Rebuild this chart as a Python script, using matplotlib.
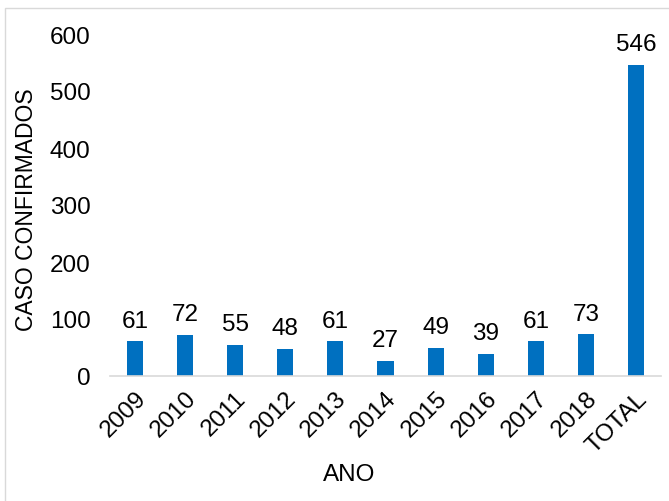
import matplotlib.pyplot as plt
from matplotlib.patches import Rectangle

categorias = ["2009", "2010", "2011", "2012", "2013", "2014", "2015",
              "2016", "2017", "2018", "TOTAL"]
casos = [61, 72, 55, 48, 61, 27, 49, 39, 61, 73, 546]

plt.rcParams['font.family'] = ['Liberation Sans', 'DejaVu Sans']
fs = 17.5

fig = plt.figure(figsize=(6.69, 5.02), dpi=100)
ax = fig.add_axes([110 / 669, 1 - 377 / 502, 551 / 669, 342 / 502])

x = range(len(categorias))
bars = ax.bar(x, casos, width=0.32, color="#0070C0")
for b, v in zip(bars, casos):
    ax.annotate(str(v), (b.get_x() + b.get_width() / 2, v), xytext=(0, 7),
                textcoords="offset points", ha="center", va="bottom", fontsize=fs)

ax.set_xlim(-0.5, len(categorias) - 0.5)
ax.set_ylim(0, 600)
ax.set_yticks(range(0, 601, 100))
ax.set_xticks(list(x))
ax.set_xticklabels(categorias, rotation=45, ha="right", rotation_mode="anchor")
ax.tick_params(axis="both", length=0, labelsize=fs)
ax.tick_params(axis="y", pad=14)
ax.tick_params(axis="x", pad=8)
for s in ["top", "right", "left"]:
    ax.spines[s].set_visible(False)
ax.spines["bottom"].set_color("#D9D9D9")
ax.spines["bottom"].set_linewidth(1.2)

ax.set_ylabel("CASO CONFIRMADOS", fontsize=16.5)
ax.set_xlabel("ANO", fontsize=fs)
ax.yaxis.set_label_coords(-0.13, 0.488)
ax.xaxis.set_label_coords(0.434, -0.255)

fig.patches.append(Rectangle((4.5 / 669, -0.05), 1.2, 1 - 9 / 502 + 0.05,
                             transform=fig.transFigure, fill=False,
                             edgecolor="#D9D9D9", linewidth=1))

fig.savefig("out.png", dpi=100)
